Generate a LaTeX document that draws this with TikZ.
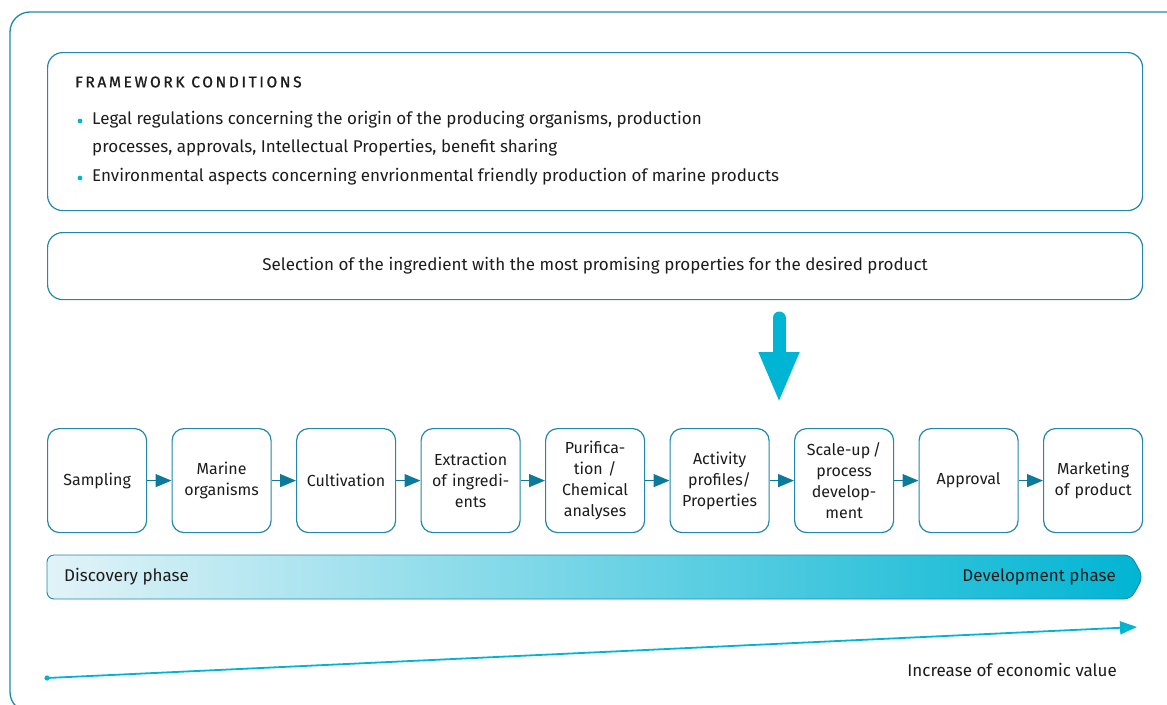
\documentclass[tikz,border=0pt]{standalone}
\usepackage{fontspec}
\setmainfont{Fira Sans}
\usetikzlibrary{positioning,calc,arrows.meta}
\usepackage{xcolor}
\definecolor{seateal}{HTML}{2088AA}
\definecolor{seadark}{HTML}{0C7A9B}
\definecolor{seacyan}{HTML}{00B5D3}
\definecolor{seapale}{HTML}{E2F3F8}
\definecolor{inkgrey}{HTML}{1C1C1C}
\newcommand{\chainstep}[3]{%
  \node[draw=seateal,line width=1.2pt,rounded corners=12pt,fill=white,
        minimum width=99pt,minimum height=104pt,anchor=north west,inner sep=0pt,
        text width=97pt,align=center,text=inkgrey,
        font=\fontsize{16}{21}\selectfont] (#1) at (#2,428) {#3};
}
\newcommand{\chainlink}[2]{%
  \draw[seadark,line width=1.3pt,-{Triangle[length=16pt,width=13pt]}] (#1) -- (#2);
}

\begin{document}
\begin{tikzpicture}[x=1pt,y=-1pt]
  \useasboundingbox (0,0) rectangle (1167,704);
  \begin{scope}
    \clip (0,0) rectangle (1167,704);
    \draw[seateal,line width=1.3pt,rounded corners=20pt] (10,12) rectangle (1220,712);
  \end{scope}
  % framework conditions
  \node[draw=seateal,line width=1.2pt,rounded corners=15pt,minimum width=1095pt,
        minimum height=158pt,anchor=north west,inner sep=0pt] (cond) at (47,52) {};
  \node[anchor=west,inner sep=0pt,text=inkgrey,
        font=\fontsize{15.5}{17}\selectfont\addfontfeatures{LetterSpace=17,FakeBold=1}] (condhead) at (75,82) {FRAMEWORK CONDITIONS};
  \node[anchor=west,inner sep=0pt,text=inkgrey,font=\fontsize{17}{20}\selectfont] (condA) at (92,120)
        {Legal regulations concerning the origin of the producing organisms, production};
  \node[anchor=west,inner sep=0pt,text=inkgrey,font=\fontsize{17}{20}\selectfont] (condB) at (92,148)
        {processes, approvals, Intellectual Properties, benefit sharing};
  \node[anchor=west,inner sep=0pt,text=inkgrey,font=\fontsize{17}{20}\selectfont] (condC) at (92,177)
        {Environmental aspects concerning envrionmental friendly production of marine products};
  \fill[seacyan] (80,121) circle (2.4pt);
  \fill[seacyan] (80,178) circle (2.4pt);
  % selection
  \node[draw=seateal,line width=1.2pt,rounded corners=15pt,minimum width=1095pt,
        minimum height=67pt,anchor=north west,inner sep=0pt,text=inkgrey,
        font=\fontsize{17}{20}\selectfont] (select) at (47,232)
        {Selection of the ingredient with the most promising properties for the desired product};
  \coordinate (dropTop) at (779,318);
  \coordinate (dropTip) at (779,403);
  \draw[seacyan,line width=13pt,line cap=round,-{Triangle[length=51pt,width=37pt]}] (dropTop) -- (dropTip);
  % value chain
  \chainstep{s1}{47}{Sampling}
  \chainstep{s2}{171.5}{Marine\\organisms}
  \chainstep{s3}{296}{Cultivation}
  \chainstep{s4}{420.5}{Extraction\\of ingredi-\\ents}
  \chainstep{s5}{545}{Purifica-\\tion /\\Chemical\\analyses}
  \chainstep{s6}{669.5}{Activity\\profiles/\\Properties}
  \chainstep{s7}{794}{Scale-up\,/\\process\\develop-\\ment}
  \chainstep{s8}{918.5}{Approval}
  \chainstep{s9}{1043}{Marketing\\of product}
  \chainlink{s1}{s2}
  \chainlink{s2}{s3}
  \chainlink{s3}{s4}
  \chainlink{s4}{s5}
  \chainlink{s5}{s6}
  \chainlink{s6}{s7}
  \chainlink{s7}{s8}
  \chainlink{s8}{s9}
  % phases
  \path[draw=seateal,line width=0.9pt,left color=seapale,right color=seacyan,rounded corners=7pt]
    (47,577) -- (47,555) -- (1131,555) -- (1143,577) -- (1131,599) -- (47,599) -- cycle;
  \node[anchor=west,inner sep=0pt,text=inkgrey,font=\fontsize{17}{20}\selectfont] (discover) at (64,577) {Discovery phase};
  \node[anchor=east,inner sep=0pt,text=inkgrey,font=\fontsize{17}{20}\selectfont] (develop) at (1116,577) {Development phase};
  % economic value
  \coordinate (valStart) at (47,678);
  \coordinate (valEnd) at (1137,627);
  \draw[seacyan,line width=1.8pt,-{Triangle[length=17pt,width=13pt]}] (valStart) -- (valEnd);
  \fill[seacyan] (valStart) circle (2.6pt);
  \node[anchor=east,inner sep=0pt,text=inkgrey,font=\fontsize{17}{20}\selectfont] (valLabel) at (1117,670) {Increase of economic value};
\end{tikzpicture}
\end{document}
